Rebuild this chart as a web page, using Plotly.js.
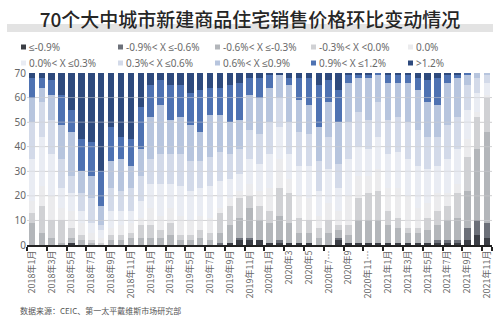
<!DOCTYPE html>
<html><head><meta charset="utf-8">
<script src="https://cdn.plot.ly/plotly-3.0.1.min.js"></script>
<style>html,body{margin:0;padding:0;background:#fff;}#chart{width:500px;height:321px;}</style>
</head><body><div id="chart"></div>
<script>
const months = ["2018年1月","2018年2月","2018年3月","2018年4月","2018年5月","2018年6月","2018年7月","2018年8月","2018年9月","2018年10月","2018年11月","2018年12月",
"2019年1月","2019年2月","2019年3月","2019年4月","2019年5月","2019年6月","2019年7月","2019年8月","2019年9月","2019年10月","2019年11月","2019年12月",
"2020年1月","2020年2月","2020年3月","2020年4月","2020年5月","2020年6月","2020年7月","2020年8月","2020年9月","2020年10月","2020年11月","2020年12月",
"2021年1月","2021年2月","2021年3月","2021年4月","2021年5月","2021年6月","2021年7月","2021年8月","2021年9月","2021年10月","2021年11月"];
const tickLabels = ["2018年1月","2018年3月","2018年5月","2018年7月","2018年9月","2018年11月","2019年1月","2019年3月","2019年5月","2019年7月","2019年9月","2019年11月",
"2020年1月","2020年3","2020年5","2020年7…","2020年9","2020年11…","2021年1月","2021年3月","2021年5月","2021年7月","2021年9月","2021年11月"];
const yTicks = [0,10,20,30,40,50,60,70];
const seriesNames = ["≤-0.9%","-0.9%< X ≤-0.6%","-0.6%< X ≤-0.3%","-0.3%< X <0.0%","0.0%","0.0%< X ≤0.3%","0.3%< X ≤0.6%","0.6%< X ≤0.9%","0.9%< X ≤1.2%",">1.2%"];
const le09 =   [0,0,0,0,1,0,0,0,0,0, 0,0,0,0,0,0,0,0,0,0, 1,2,2,2,1,1,1,1,1,0, 0,2,1,1,1,1,1,1,1,1, 1,1,1,1,2,4,3];
const m09m06 = [0,0,0,0,0,0,0,0,0,0, 0,0,0,0,0,0,0,0,0,1, 0,1,1,0,0,1,0,0,0,0, 0,1,0,0,0,0,0,0,0,0, 0,1,1,1,5,6,6];
const m06m03 = [9,5,3,1,2,2,1,0,2,2, 3,3,3,3,4,2,2,3,2,4, 7,8,12,8,8,10,8,4,4,3, 5,3,3,9,9,9,7,6,4,4, 5,6,8,9,15,29,37];
const m03z =   [4,11,7,9,4,2,1,1,2,2, 2,5,5,3,5,2,2,3,3,8, 8,8,5,6,5,11,12,6,5,4, 5,2,4,9,11,12,6,4,2,2, 5,6,6,10,14,13,14];
const flat =   [5,8,10,5,7,5,3,2,3,4, 4,3,7,6,6,8,6,6,6,2, 3,3,5,6,9,12,6,9,9,5, 7,6,12,9,7,9,9,12,13,8, 6,7,5,4,7,2,1];
const z03 =    [17,20,17,8,7,5,4,3,7,6, 5,7,10,13,10,12,12,11,13,11, 8,7,10,11,14,13,10,12,13,10, 14,9,15,12,11,13,14,15,15,17, 14,11,14,14,12,8,5];
const p03p06 = [15,14,14,12,7,7,10,2,9,8, 9,10,10,12,12,13,12,11,12,12, 10,10,12,12,13,12,13,14,13,12, 13,10,15,14,12,14,14,14,15,15, 13,12,14,13,10,6,3];
const p06p09 = [10,6,10,14,18,9,9,8,11,13, 9,11,17,20,14,15,15,12,17,15, 13,12,14,15,14,9,15,13,12,14, 14,17,16,14,17,11,15,14,16,16, 14,13,17,16,4,2,1];
const p09p12 = [8,4,6,12,9,13,14,14,14,9, 11,17,13,10,14,13,13,17,11,11, 15,15,7,8,5,0,3,9,11,17, 9,13,3,1,1,1,3,3,3,5, 9,11,3,1,1,0,0];
const gt12 =   [2,2,3,9,15,27,28,40,22,26, 27,14,5,3,5,5,8,7,6,6, 5,4,2,2,1,1,2,2,2,5, 3,7,1,1,1,0,1,1,1,2, 3,2,1,1,0,0,0];
const seriesValues = [le09,m09m06,m06m03,m03z,flat,z03,p03p06,p06p09,p09p12,gt12];
const colors = ["#3b3e45","#6c7079","#b3b6ba","#d0d1d4","#ebebed","#e9ecf3","#d3dae9","#b7c5de","#4e72b2","#2e4a7d"];

const traces = seriesNames.map((n,i)=>({
  type:'bar', name:n, x:months, y:seriesValues[i],
  marker:{color:colors[i], line:{width:0}}, showlegend:false,
  hovertemplate:'%{x} '+n+': %{y}<extra></extra>'
}));

// plot area in pixels: x 27..492, y 73..245
const L=27, R=492, T=73, B=245;
const px = v => (v-L)/(R-L);
const py = v => (B-v)/(B-T);
const shapes = [{type:'rect', xref:'paper', yref:'paper', x0:px(7), x1:px(493), y0:py(32), y1:py(24), fillcolor:'#e3e3e3', line:{width:0}, layer:'below'}];
// faint gridlines also visible over the bars
yTicks.filter(t=>t>0 && t<70).forEach(t=>{
  shapes.push({type:'line', xref:'paper', yref:'y', x0:0, x1:1, y0:t, y1:t, line:{color:'rgba(205,205,210,0.55)', width:1}, layer:'above'});
});
const annotations = [];
const colX = [21,118,215,311,408];
const rowY = [47,63];
seriesNames.forEach((n,i)=>{
  const cx = colX[i%5], cy = rowY[Math.floor(i/5)];
  shapes.push({type:'rect', xref:'paper', yref:'paper', x0:px(cx), x1:px(cx+5), y0:py(cy+2.5), y1:py(cy-2.5), fillcolor:colors[i], line:{width:0}});
  annotations.push({xref:'paper', yref:'paper', x:px(cx+6), y:py(cy), xanchor:'left', yanchor:'middle', showarrow:false, text:n, font:{family:'Noto Sans, sans-serif', size:10, color:'#6a6a6a'}});
});
annotations.push({xref:'paper', yref:'paper', x:px(18), y:py(310), xanchor:'left', yanchor:'middle', showarrow:false,
  text:'数据来源：CEIC、第一太平戴维斯市场研究部', font:{family:'Noto Sans CJK SC, sans-serif', size:8, color:'#555'}});

const layout = {
  width:500, height:321,
  margin:{l:L, r:500-R, t:T, b:321-B, pad:0},
  paper_bgcolor:'#fff', plot_bgcolor:'#fff',
  barmode:'stack', bargap:0.34,
  title:{text:'70个大中城市新建商品住宅销售价格环比变动情况', x:0.5, xref:'container', xanchor:'center', y:1-20/321, yref:'container', yanchor:'middle',
    font:{family:'Noto Sans CJK SC, sans-serif', size:19, color:'#262626', weight:500}},
  xaxis:{type:'category', tickvals:months.filter((m,i)=>i%2===0), ticktext:tickLabels, tickangle:-90, tickson:'boundaries',
    ticks:'outside', ticklen:4, tickwidth:2, tickcolor:'#222', showline:true, linecolor:'#222', linewidth:2,
    tickfont:{family:'Noto Sans CJK SC, sans-serif', size:9, color:'#666'}, showgrid:false, fixedrange:true},
  yaxis:{range:[0,70], tickvals:yTicks, showgrid:true, gridcolor:'#dcdcdc', gridwidth:1, zeroline:false, showline:false, ticks:'',
    tickfont:{family:'Noto Sans, sans-serif', size:10, color:'#666'}, fixedrange:true},
  shapes:shapes, annotations:annotations, showlegend:false
};
Plotly.newPlot('chart', traces, layout, {displayModeBar:false, staticPlot:true});
</script></body></html>
